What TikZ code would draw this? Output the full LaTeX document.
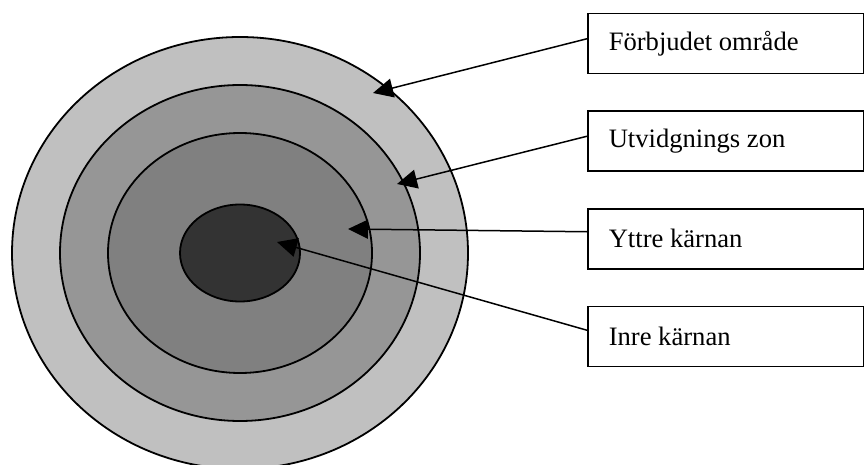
\documentclass[tikz,border=0pt]{standalone}
\usepackage{fontspec}
\setmainfont{Liberation Serif}
\usetikzlibrary{arrows.meta,positioning,shapes.geometric}

\definecolor{ringA}{HTML}{C0C0C0}
\definecolor{ringB}{HTML}{969696}
\definecolor{ringC}{HTML}{808080}
\definecolor{ringD}{HTML}{333333}

% left aligned text inside a fixed width box
\newcommand{\boxtext}[1]{\makebox[234pt][l]{#1}}

\begin{document}
\begin{tikzpicture}[
    x=1pt, y=-1pt,
    node distance=36pt,
    ring/.style={ellipse,draw,line width=1.8pt,inner sep=0pt},
    label box/.style={rectangle,draw,line width=1.5pt,minimum height=60pt,
        inner xsep=21pt,inner ysep=0pt,font=\fontsize{26.6}{32}\selectfont},
    arrow/.style={-{Triangle[length=20pt,width=19pt]},line width=1.5pt}
]
\useasboundingbox (0,0) rectangle (864,465);
% the rings, outermost first
\node[ring,fill=ringA,minimum width=456pt,minimum height=432pt] (forbjudet) at (240,253) {};
\node[ring,fill=ringB,minimum width=360pt,minimum height=336pt] (zon) at (240,253) {};
\node[ring,fill=ringC,minimum width=264pt,minimum height=240pt] (yttre) at (240,253) {};
\node[ring,fill=ringD,minimum width=120pt,minimum height=97pt] (inre) at (240,253) {};

% labels on the right
\node[label box,anchor=north west] (b1) at (587,13) {\boxtext{Förbjudet område}};
\node[label box,below=of b1] (b2) {\boxtext{Utvidgnings zon}};
\node[label box,below=of b2] (b3) {\boxtext{Yttre kärnan}};
\node[label box,below=of b3] (b4) {\boxtext{Inre kärnan}};

% where the arrows point
\coordinate (t1) at (373,93);
\coordinate (t2) at (397,184);
\coordinate (t3) at (348,229);
\coordinate (t4) at (277,242);

\draw[arrow] ([yshift=5pt]b1.west) -- (t1);
\draw[arrow] ([yshift=5pt]b2.west) -- (t2);
\draw[arrow] ([yshift=7pt]b3.west) -- (t3);
\draw[arrow] ([yshift=6pt]b4.west) -- (t4);
\end{tikzpicture}
\end{document}
